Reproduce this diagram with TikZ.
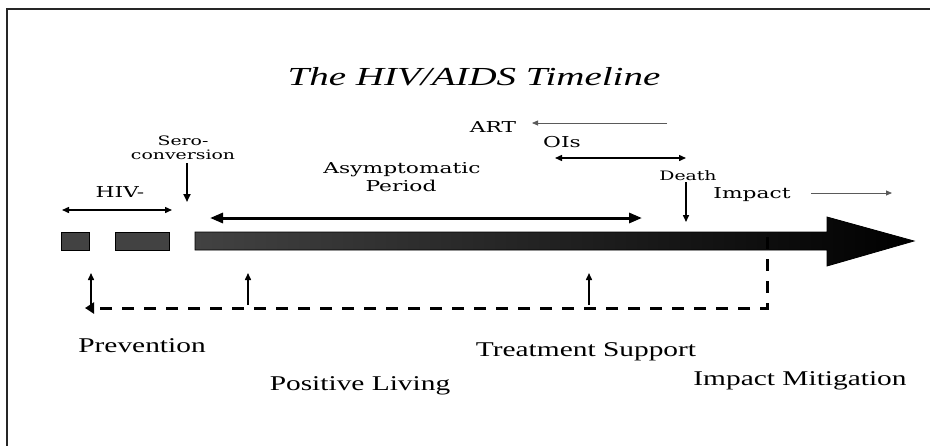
\documentclass[tikz,border=0pt]{standalone}
\usepackage{fontspec}
\setmainfont{Liberation Serif}
\newfontfamily\titlefont[FakeStretch=1.5]{Liberation Serif}
\newfontfamily\lblfont[FakeStretch=1.45]{DejaVu Serif}
\newfontfamily\botfont[FakeStretch=1.4]{Liberation Serif}
\usetikzlibrary{arrows.meta}
\definecolor{barL}{RGB}{66,66,66}
\definecolor{barR}{RGB}{0,0,0}
\definecolor{thin}{RGB}{90,90,90}
\tikzset{
  lbl/.style={inner sep=0pt, anchor=base, font=\lblfont\fontsize{15}{17}\selectfont},
  smalllbl/.style={inner sep=0pt, anchor=base, font=\lblfont\fontsize{13}{14}\selectfont},
  botlbl/.style={inner sep=0pt, anchor=base, font=\botfont\fontsize{21}{24}\selectfont},
  barseg/.style={fill=barL, draw=black, line width=0.8pt},
  thinarrow/.style={draw=thin, line width=0.8pt, -{Triangle[length=6pt,width=5pt]}},
  medarrow/.style={line width=1.5pt, -{Triangle[length=7pt,width=6pt]}},
  medboth/.style={line width=1.4pt, {Triangle[length=7pt,width=6pt]}-{Triangle[length=7pt,width=6pt]}},
  bigboth/.style={line width=3pt, {Triangle[length=13pt,width=10pt]}-{Triangle[length=13pt,width=10pt]}},
  dashline/.style={line width=3pt, dash pattern=on 12pt off 10pt, -{Triangle[length=9pt,width=11pt]}},
}
\begin{document}
\begin{tikzpicture}[x=1pt,y=-1pt]
\useasboundingbox (0,0) rectangle (930,445);
\fill[white] (0,0) rectangle (930,445);
% frame
\draw[line width=2.5pt, black!85] (7,450) -- (7,9) -- (940,9);
% title
\node[inner sep=0pt, anchor=base, font=\titlefont\itshape\fontsize{26}{30}\selectfont] (title) at (474,85) {The HIV/AIDS Timeline};
% upper labels
\node[smalllbl] (sero1) at (183,145) {Sero-};
\node[smalllbl] (sero2) at (183,159) {conversion};
\node[lbl] (hiv) at (120,197) {HIV-};
\node[lbl] (asym) at (402,173) {Asymptomatic};
\node[lbl] (period) at (401,191) {Period};
\node[lbl] (art) at (493,132) {ART};
\node[lbl] (ois) at (562,147) {OIs};
\node[smalllbl] (death) at (688,180) {Death};
\node[lbl] (impact) at (752,198) {Impact};
% timeline bar
\node[barseg, inner sep=0pt, minimum width=28pt, minimum height=18pt] (seg1) at (75,241) {};
\node[barseg, inner sep=0pt, minimum width=54pt, minimum height=18pt] (seg2) at (142,241) {};
\shade[left color=barL, right color=barR, draw=black, line width=0.8pt]
  (195,232) -- (827,232) -- (827,217) -- (914,241) -- (827,266) -- (827,250) -- (195,250) -- cycle;
\coordinate (tip) at (914,241);
% coordinates for connectors
\coordinate (hivL) at (62,210);
\coordinate (hivR) at (172,210);
\coordinate (seroT) at (187,163);
\coordinate (seroB) at (187,202);
\coordinate (asymL) at (210,218);
\coordinate (asymR) at (642,218);
\coordinate (artR) at (667,123);
\coordinate (artL) at (532,123);
\coordinate (oisL) at (555,158);
\coordinate (oisR) at (686,158);
\coordinate (deathT) at (686,182);
\coordinate (deathB) at (686,222);
\coordinate (impL) at (811,193);
\coordinate (impR) at (892,193);
\coordinate (dTop) at (767,237);
\coordinate (dCorner) at (767,308);
\coordinate (dEnd) at (85,308);
\coordinate (up1B) at (91,305);
\coordinate (up1T) at (91,273);
\coordinate (up2B) at (248,305);
\coordinate (up2T) at (248,273);
\coordinate (up3B) at (589,305);
\coordinate (up3T) at (589,273);
% arrows
\draw[medboth] (hivL) -- (hivR);
\draw[line width=2pt, -{Triangle[length=8pt,width=7pt]}] (seroT) -- (seroB);
\draw[bigboth] (asymL) -- (asymR);
\draw[thinarrow] (artR) -- (artL);
\draw[medboth] (oisL) -- (oisR);
\draw[medarrow] (deathT) -- (deathB);
\draw[thinarrow] (impL) -- (impR);
\draw[dashline] (dTop) -- (dCorner) -- (dEnd);
\draw[medarrow] (up1B) -- (up1T);
\draw[medarrow] (up2B) -- (up2T);
\draw[medarrow] (up3B) -- (up3T);
% bottom labels
\node[botlbl] (prev) at (142,352) {Prevention};
\node[botlbl] (treat) at (586,356) {Treatment Support};
\node[botlbl] (pos) at (360,390) {Positive Living};
\node[botlbl] (mitig) at (800,385) {Impact Mitigation};
\end{tikzpicture}
\end{document}
